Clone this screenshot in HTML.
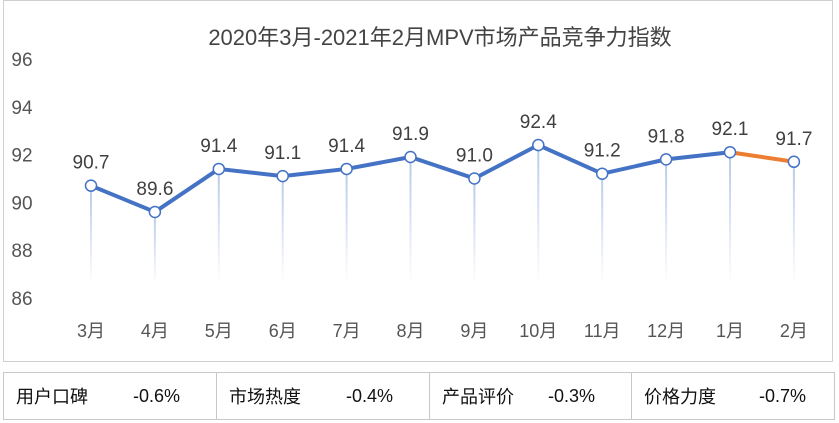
<!DOCTYPE html>
<html><head><meta charset="utf-8"><style>
body{margin:0;width:839px;height:423px;background:#fff;font-family:"Liberation Sans","Noto Sans CJK SC",sans-serif;overflow:hidden;position:relative}
#box{position:absolute;left:3px;top:0;width:830px;height:362px;border:1px solid #d0d0d0;box-sizing:border-box}
#tbl{position:absolute;left:3px;top:372px;width:832px;height:48px;border:1px solid #c8c8c8;box-sizing:border-box;display:flex}
.cell{box-sizing:border-box;border-right:1px solid #c8c8c8;display:flex;align-items:center;justify-content:space-between;padding:0 36px 0 12px;font-size:18px;color:#111;white-space:nowrap}
.cell:last-child{border-right:none}
</style></head><body>
<div id="box"></div>
<svg id="chart" width="839" height="365" style="position:absolute;left:0;top:0">
<defs><linearGradient id="dg" x1="0" y1="0" x2="0" y2="1"><stop offset="0" stop-color="#b8c8e8"/><stop offset="1" stop-color="#b8c8e8" stop-opacity="0"/></linearGradient></defs>
<text x="440" y="45" text-anchor="middle" font-size="22" fill="#444">2020年3月-2021年2月MPV市场产品竞争力指数</text>
<g id="g"></g>
</svg>
<div id="tbl">
<div class="cell" style="width:213px"><span>用户口碑</span><span>-0.6%</span></div>
<div class="cell" style="width:213px"><span>市场热度</span><span>-0.4%</span></div>
<div class="cell" style="width:202px"><span>产品评价</span><span>-0.3%</span></div>
<div class="cell" style="flex:1;padding-right:28px"><span>价格力度</span><span>-0.7%</span></div>
</div>
<script>
const categories=["3月","4月","5月","6月","7月","8月","9月","10月","11月","12月","1月","2月"];
const values=[90.7,89.6,91.4,91.1,91.4,91.9,91.0,92.4,91.2,91.8,92.1,91.7];
const yTicks=[86,88,90,92,94,96];
const ns="http://www.w3.org/2000/svg",g=document.getElementById('g');
const x=i=>91+i*63.9, y=v=>298-(v-86)*23.9;
function el(t,a,p){const e=document.createElementNS(ns,t);for(const k in a)e.setAttribute(k,a[k]);(p||g).appendChild(e);return e;}
yTicks.forEach(t=>{const e=el('text',{x:22,y:y(t)+7,'text-anchor':'middle','font-size':19,fill:'#555'});e.textContent=t;

});
categories.forEach((c,i)=>{const e=el('text',{x:x(i),y:337,'text-anchor':'middle','font-size':18,fill:'#555'});e.textContent=c;

});
values.forEach((v,i)=>{const r=el('rect',{x:x(i)-1,y:y(v),width:2,height:285-y(v),fill:'url(#dg)'});

});
let d=values.slice(0,11).map((v,i)=>(i?'L':'M')+x(i)+' '+y(v)).join('');
const p=el('path',{d:d,fill:'none',stroke:'#4472c4','stroke-width':4,'stroke-linejoin':'round'});


const o=el('line',{x1:x(10),y1:y(values[10]),x2:x(11),y2:y(values[11]),stroke:'#ed7d31','stroke-width':4});


values.forEach((v,i)=>{const c=el('circle',{cx:x(i),cy:y(v),r:5.5,fill:'#fff',stroke:'#4472c4','stroke-width':1.5});


const t=el('text',{x:x(i),y:y(v)-17,'text-anchor':'middle','font-size':19,fill:'#404040'});t.textContent=v.toFixed(1);

});
</script>
</body></html>
